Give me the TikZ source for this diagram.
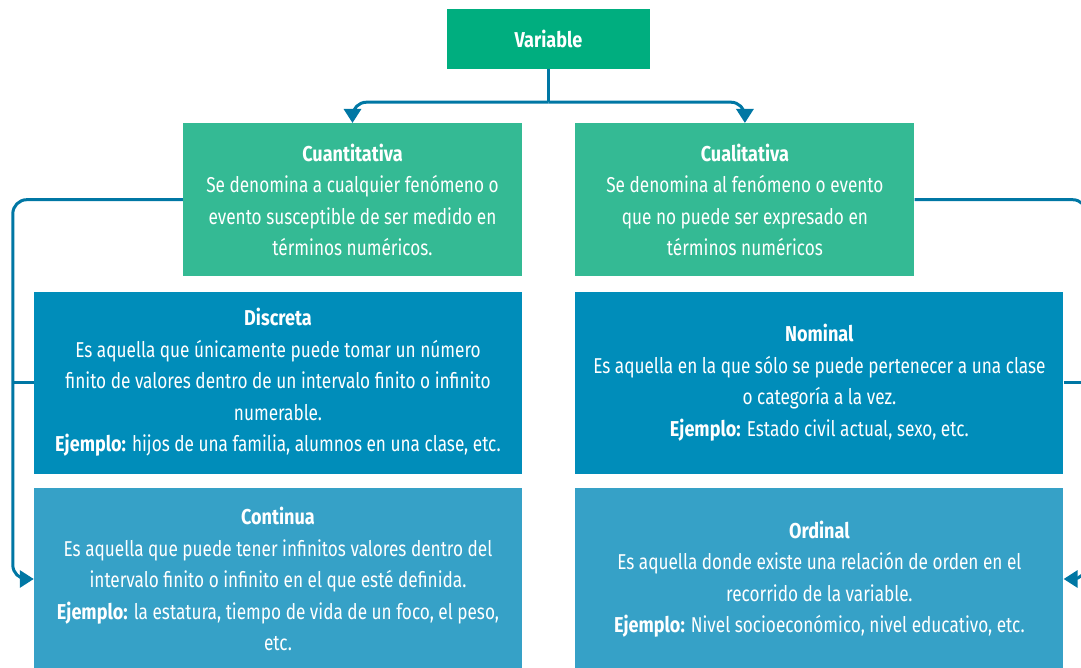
\documentclass[tikz,border=0pt]{standalone}
\usepackage{fontspec}
\setmainfont[FakeStretch=0.8, BoldFeatures={FakeStretch=0.84}]{Fira Sans}
\usetikzlibrary{positioning, arrows.meta}

\definecolor{vargreen}{RGB}{0,174,127}
\definecolor{catgreen}{RGB}{52,186,148}
\definecolor{subblue}{RGB}{0,141,186}
\definecolor{subbluelt}{RGB}{54,161,199}
\definecolor{linkblue}{RGB}{0,119,164}

\begin{document}
\begin{tikzpicture}[x=1pt, y=-1pt,
    box/.style={align=center, text=white, inner sep=0pt,
                font=\fontsize{21.5}{31.5}\selectfont},
    varbox/.style={box, fill=vargreen, minimum width=203pt, minimum height=60pt},
    catbox/.style={box, fill=catgreen, minimum width=339pt, minimum height=153pt},
    subbox/.style={box, minimum width=488pt, minimum height=182pt},
    link/.style={draw=linkblue, line width=3pt},
    arr/.style={link, rounded corners=14pt, -{Triangle[width=17pt, length=14pt]}}
  ]
  \useasboundingbox (0,0) rectangle (1081,668);

  \node[varbox] (var) at (548.5,39) {\textbf{Variable}};
  \node[catbox, anchor=north] (cuant) at (352.5,123)
    {\textbf{Cuantitativa}\\Se denomina a cualquier fenómeno o\\evento susceptible de ser medido en\\términos numéricos.};
  \node[catbox, right=53pt of cuant] (cual)
    {\textbf{Cualitativa}\\Se denomina al fenómeno o evento\\que no puede ser expresado en\\términos numéricos};

  \node[subbox, fill=subblue, anchor=north east] (disc) at ([yshift=-15pt]cuant.south east)
    {\textbf{Discreta}\\Es aquella que únicamente puede tomar un número\\finito de valores dentro de un intervalo finito o infinito\\numerable.\\\textbf{Ejemplo:} hijos de una familia, alumnos en una clase, etc.};
  \node[subbox, fill=subbluelt, below=14pt of disc] (cont)
    {\textbf{Continua}\\Es aquella que puede tener infinitos valores dentro del\\intervalo finito o infinito en el que esté definida.\\\textbf{Ejemplo:} la estatura, tiempo de vida de un foco, el peso,\\etc.};
  \node[subbox, fill=subblue, anchor=north west] (nom) at ([yshift=-15pt]cual.south west)
    {\textbf{Nominal}\\Es aquella en la que sólo se puede pertenecer a una clase\\o categoría a la vez.\\\textbf{Ejemplo:} Estado civil actual, sexo, etc.};
  \node[subbox, fill=subbluelt, below=14pt of nom] (ord)
    {\textbf{Ordinal}\\Es aquella donde existe una relación de orden en el\\recorrido de la variable.\\\textbf{Ejemplo:} Nivel socioeconómico, nivel educativo, etc.};

  % branches
  \coordinate (split) at ([yshift=-33pt]var.south);
  \draw[link] (var.south) -- (split);
  \draw[arr] (split) -| (cuant.north);
  \draw[arr] (split) -| (cual.north);

  \draw[arr] (cuant.west) -- ++(-170,0) |- (cont.west);
  \draw[link] (disc.west) -- ++(-21,0);
  \draw[arr] (cual.east) -- ++(172,0) |- (ord.east);
  \draw[link] (nom.east) -- ++(25,0);
\end{tikzpicture}
\end{document}
